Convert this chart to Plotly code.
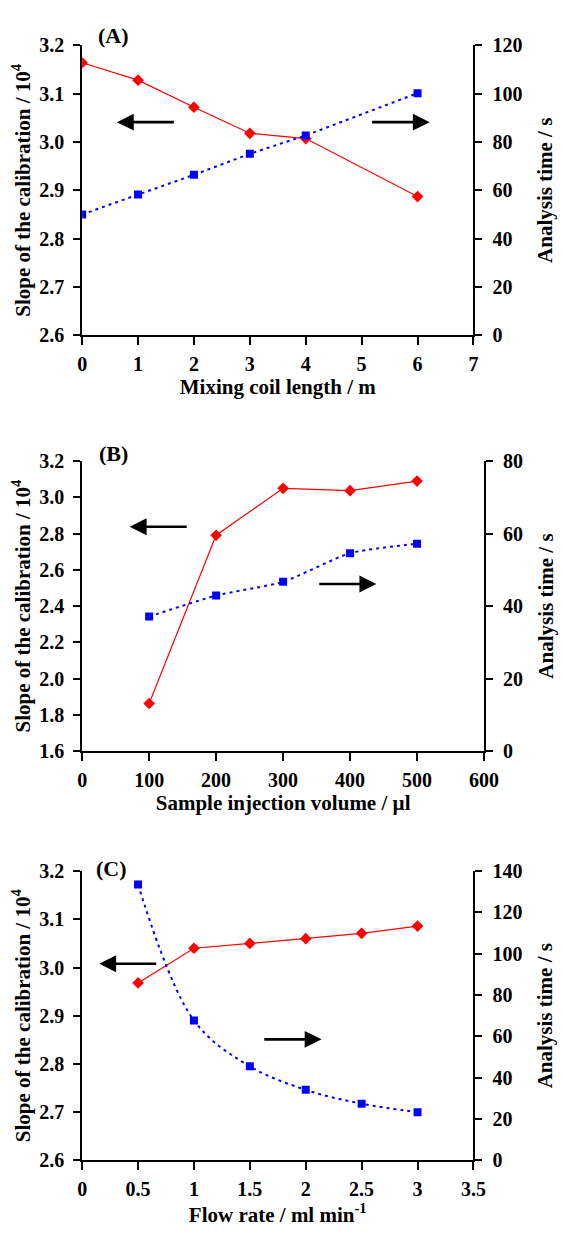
import plotly.graph_objects as go

# Panel A data
a_x = [0, 1, 2, 3, 4, 6]
a_slope = [3.164, 3.128, 3.072, 3.018, 3.007, 2.887]
a_time = [50.0, 58.2, 66.4, 75.1, 82.7, 100.2]

# Panel B data
b_x = [100, 200, 300, 400, 500]
b_slope = [1.862, 2.791, 3.050, 3.037, 3.090]
b_time = [37.1, 42.9, 46.7, 54.6, 57.2]

# Panel C data
c_x = [0.5, 1, 1.5, 2, 2.5, 3]
c_slope = [2.968, 3.040, 3.050, 3.060, 3.071, 3.086]
c_time = [133.5, 67.7, 45.5, 34.1, 27.4, 23.3]

FONT = "Times New Roman, Liberation Serif, serif"
RED = "#ff0000"
BLUE = "#0000ff"

fig = go.Figure()

panels = [
    (a_x, a_slope, a_time, "x", "y", "y2", "linear", 0),
    (b_x, b_slope, b_time, "x2", "y3", "y4", "spline", 0.6),
    (c_x, c_slope, c_time, "x3", "y5", "y6", "spline", 1.0),
]
for xs, sl, tm, xa, yl, yr, shape, sm in panels:
    fig.add_trace(go.Scatter(x=xs, y=sl, xaxis=xa, yaxis=yl, mode="lines+markers",
                             line=dict(color=RED, width=1.2),
                             marker=dict(symbol="diamond", size=9, color=RED),
                             showlegend=False))
    line = dict(color=BLUE, width=2, dash="3px,4px", shape=shape)
    if shape == "spline":
        line["smoothing"] = sm
    fig.add_trace(go.Scatter(x=xs, y=tm, xaxis=xa, yaxis=yr, mode="lines+markers",
                             line=line,
                             marker=dict(symbol="square", size=8, color=BLUE),
                             showlegend=False))

tickfont = dict(family=FONT, size=20, color="black", weight="bold")
titlefont = dict(family=FONT, size=21, color="black", weight="bold")

def xaxis(domain, anchor, rng, dtick, title):
    return dict(domain=domain, anchor=anchor, range=rng, dtick=dtick, tick0=0,
                showgrid=False, zeroline=False, showline=True, linecolor="black",
                linewidth=2, ticks="outside", ticklen=8, tickwidth=2, tickcolor="black",
                tickfont=tickfont, ticklabelstandoff=2,
                title=dict(text=title, font=titlefont, standoff=1))

def yleft(domain, anchor, rng, dtick, fmt):
    return dict(domain=domain, anchor=anchor, range=rng, dtick=dtick, tick0=rng[0],
                tickformat=fmt, showgrid=False, zeroline=False, showline=True,
                linecolor="black", linewidth=2, ticks="outside", ticklen=7, tickwidth=2,
                tickcolor="black", tickfont=tickfont, ticklabelstandoff=5,
                title=dict(text="Slope of the calibration / 10<sup>4</sup>", font=titlefont, standoff=3))

def yright(domain, anchor, overlay, rng, dtick):
    return dict(domain=domain, anchor=anchor, overlaying=overlay, side="right", range=rng,
                dtick=dtick, tick0=0, showgrid=False, zeroline=False, showline=True,
                linecolor="black", linewidth=2, ticks="outside", ticklen=7, tickwidth=2,
                tickcolor="black", tickfont=tickfont, ticklabelstandoff=6,
                title=dict(text="Analysis time / s", font=titlefont, standoff=16))

def yinside(overlay, anchor, rng, dtick):
    return dict(overlaying=overlay, anchor=anchor, side="right", range=rng, dtick=dtick,
                tick0=0, showgrid=False, zeroline=False, showline=False, ticks="inside",
                ticklen=7, tickwidth=2, tickcolor="black", showticklabels=False)

H = 1241.0
W = 562.0
dA = [1 - 330 / H, 1 - 35 / H]
dB = [1 - 753.3 / H, 1 - 458.3 / H]
dC = [1 - 1170 / H, 1 - 875.7 / H]
xdA = [80 / W, 485.7 / W]
xdB = [80 / W, 496.7 / W]
xdC = [80 / W, 485.7 / W]

fig.update_layout(
    width=562, height=1241, margin=dict(l=0, r=0, t=0, b=0),
    paper_bgcolor="white", plot_bgcolor="white",
    xaxis=xaxis(xdA, "y", [0, 7], 1, "Mixing coil length / m"),
    yaxis=yleft(dA, "x", [2.6, 3.2], 0.1, ".1f"),
    yaxis2=yright(dA, "x", "y", [0, 120], 20),
    xaxis2=xaxis(xdB, "y3", [0, 600], 100, "Sample injection volume / µl"),
    yaxis3=yleft(dB, "x2", [1.6, 3.2], 0.2, ".1f"),
    yaxis4=yright(dB, "x2", "y3", [0, 80], 20),
    xaxis3=xaxis(xdC, "y5", [0, 3.5], 0.5, "Flow rate / ml min<sup>-1</sup>"),
    yaxis5=yleft(dC, "x3", [2.6, 3.2], 0.1, ".1f"),
    yaxis6=yright(dC, "x3", "y5", [0, 140], 20),
    yaxis7=yinside("y", "x", [0, 120], 20),
    yaxis8=yinside("y3", "x2", [0, 80], 20),
    yaxis9=yinside("y5", "x3", [0, 140], 20),
)

# Panel labels (paper positions)
for txt, px, py in [("(A)", 113, 25), ("(B)", 112.5, 450), ("(C)", 110, 873)]:
    fig.add_annotation(text=txt, xref="paper", yref="paper", x=px / W, y=1 - py / H,
                       showarrow=False, xanchor="center", yanchor="middle",
                       font=dict(family=FONT, size=22, color="black", weight="bold"))

# Arrows: (head_x, head_y, tail_x, tail_y, xref, yref)
arrows = [
    (0.621, 3.041, 1.667, 3.041, "x", "y"),
    (6.219, 3.041, 5.16, 3.041, "x", "y"),
    (71.0, 2.838, 158.4, 2.838, "x2", "y3"),
    (439.2, 2.522, 351.8, 2.522, "x2", "y3"),
    (0.153, 3.008, 0.676, 3.008, "x3", "y5"),
    (2.142, 2.851, 1.616, 2.851, "x3", "y5"),
]
for hx, hy, tx, ty, xr, yr in arrows:
    fig.add_annotation(x=hx, y=hy, ax=tx, ay=ty, xref=xr, yref=yr, axref=xr, ayref=yr,
                       showarrow=True, arrowhead=2, arrowsize=1.3, arrowwidth=2.6,
                       arrowcolor="black", text="")

fig.write_html("out.html")
